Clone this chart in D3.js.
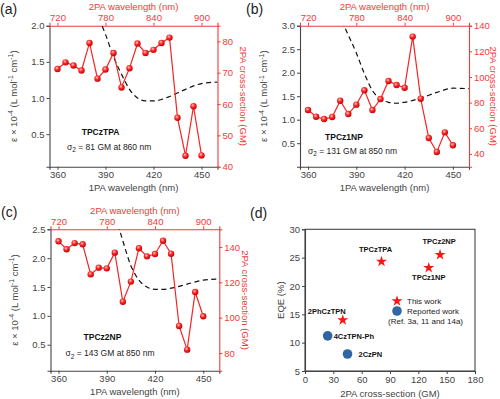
<!DOCTYPE html>
<html>
<head>
<meta charset="utf-8">
<script src="https://cdn.jsdelivr.net/npm/d3@7"></script>
<style>
body { margin: 0; background: #fff; }
svg { display: block; }
text { font-family: Arial, "Liberation Sans", sans-serif; }
</style>
</head>
<body>
<svg id="fig" width="500" height="399"></svg>
<script>
// 1PA wavelengths of the 2PA points (2PA wavelength = 2 x these)
const wl1PA = [360, 365, 370, 375, 380, 385, 390, 395, 400, 405, 410, 415, 420, 425, 430, 435, 440, 445, 450];

// 2PA cross-sections (GM)
const gmTPCzTPA = [71.2, 73.3, 72.3, 70.7, 79.5, 68.1, 71.0, 76.3, 65.3, 71.4, 79.3, 76.3, 77.3, 79.5, 81.2, 55.6, 43.5, 59.3, 43.6];
const gmTPCz1NP = [74.2, 69.0, 67.2, 68.8, 81.5, 71.1, 78.4, 89.6, 74.2, 82.8, 96.9, 93.7, 91.6, 131.5, 83.0, 52.4, 41.5, 56.8, 46.7];
const gmTPCz2NP = [143.2, 138.7, 142.2, 141.5, 124.5, 128.3, 127.9, 136.8, 109.0, 120.4, 139.3, 134.7, 136.0, 143.5, 136.2, 95.3, 81.9, 114.5, 100.8];

// 1PA absorption (dashed), eps x 10^-4
const absNmA = [386, 390, 395, 400, 405, 410, 415, 420, 425, 430, 440, 450, 460];
const absA = [2.10, 1.88, 1.57, 1.33, 1.12, 1.00, 0.96, 0.96, 0.98, 1.02, 1.12, 1.20, 1.22];
const absNmB = [381, 385, 390, 395, 400, 405, 410, 415, 420, 430, 440, 450, 460];
const absB = [3.10, 2.80, 2.42, 1.98, 1.62, 1.44, 1.37, 1.35, 1.37, 1.46, 1.58, 1.67, 1.66];
const absNmC = [397, 400, 405, 410, 415, 420, 425, 430, 440, 450, 460];
const absC = [2.58, 2.30, 1.87, 1.62, 1.50, 1.46, 1.46, 1.48, 1.55, 1.62, 1.64];

// tick labels
const ticks1PA = [360, 390, 420, 450];
const ticks2PA = [720, 780, 840, 900];
const epsTicksA = [0.5, 1.0, 1.5, 2.0];
const epsTicksB = [0.5, 1.0, 1.5, 2.0, 2.5, 3.0];
const epsTicksC = [0.5, 1.0, 1.5, 2.0, 2.5];
const gmTicksA = [40, 50, 60, 70, 80];
const gmTicksB = [40, 60, 80, 100, 120, 140];
const gmTicksC = [80, 100, 120, 140];

// panel d
const thisNames = ["TPCzTPA", "TPCz1NP", "TPCz2NP", "2PhCzTPN"];
const thisGM = [81, 131, 143, 40];
const thisEQE = [24.3, 23.2, 25.5, 14.0];
const refNames = ["4CzTPN-Ph", "2CzPN"];
const refGM = [24, 45];
const refEQE = [11.2, 8.0];
const dTicksX = [0, 30, 60, 90, 120, 150, 180];
const dTicksY = [5, 10, 15, 20, 25, 30];

const RED = "#f52424";
const AXRED = "#f23a3a";
const GREY = "#444";
const BLUE = "#2f66a3";

const svg = d3.select("#fig");

// shiny red ball for the 2PA points
const defs = svg.append("defs");
const grad = defs.append("radialGradient").attr("id", "ball")
  .attr("cx", "40%").attr("cy", "35%").attr("r", "65%");
grad.append("stop").attr("offset", "0%").attr("stop-color", "#ffd0d0");
grad.append("stop").attr("offset", "45%").attr("stop-color", "#ff2a2a");
grad.append("stop").attr("offset", "100%").attr("stop-color", "#c40000");

function styleAxis(g, col) {
  g.select(".domain").attr("stroke", col).attr("stroke-width", 1.1);
  g.selectAll(".tick line").attr("stroke", col);
  g.selectAll(".tick text").attr("fill", col).attr("font-size", 9.5)
    .attr("font-family", "Arial, 'Liberation Sans', sans-serif");
}

const panels = [
  { tag: "(a)", tx: 0, ty: 14, x0: 49.5, x1: 217.5, y0: 25.7, y1: 166.7,
    eps: [0.05, 2.0], epsTicks: epsTicksA, gm: [40, 85], gmTicks: gmTicksA,
    vals: gmTPCzTPA, absX: absNmA, absY: absA, rOff: 22.5,
    name: "TPCzTPA", nx: 51, ny: 109, sig: "81", sigWl: "860", sx: 17.5, sy: 124 },
  { tag: "(b)", tx: 246, ty: 14, x0: 300, x1: 469, y0: 25.7, y1: 166.7,
    eps: [0, 3.0], epsTicks: epsTicksB, gm: [30, 140], gmTicks: gmTicksB,
    vals: gmTPCz1NP, absX: absNmB, absY: absB, rOff: 20.5,
    name: "TPCz1NP", nx: 44, ny: 114, sig: "131", sigWl: "850", sx: 8, sy: 128 },
  { tag: "(c)", tx: 1, ty: 217, x0: 50.5, x1: 219.3, y0: 229.3, y1: 370.7,
    eps: [0.05, 2.5], epsTicks: epsTicksC, gm: [70, 150], gmTicks: gmTicksC,
    vals: gmTPCz2NP, absX: absNmC, absY: absC, rOff: 22.5,
    name: "TPCz2NP", nx: 52, ny: 111, sig: "143", sigWl: "850", sx: 15, sy: 127 }
];

panels.forEach(function (p, i) {
  const x = d3.scaleLinear().domain([355, 460]).range([p.x0, p.x1]);
  const xTop = d3.scaleLinear().domain([710, 920]).range([p.x0, p.x1]);
  const yL = d3.scaleLinear().domain(p.eps).range([p.y1, p.y0]);
  const yR = d3.scaleLinear().domain(p.gm).range([p.y1, p.y0]);

  svg.append("text").attr("x", p.tx).attr("y", p.ty).attr("font-size", 14)
    .attr("fill", "#222").text(p.tag);

  // clip for the dashed curve
  defs.append("clipPath").attr("id", "clip" + i).append("rect")
    .attr("x", p.x0).attr("y", p.y0).attr("width", p.x1 - p.x0).attr("height", p.y1 - p.y0);

  // axes
  const gB = svg.append("g").attr("transform", "translate(0," + p.y1 + ")")
    .call(d3.axisBottom(x).tickValues(ticks1PA).tickSize(3).tickPadding(2));
  styleAxis(gB, GREY);
  const gL = svg.append("g").attr("transform", "translate(" + p.x0 + ",0)")
    .call(d3.axisLeft(yL).tickValues(p.epsTicks).tickFormat(d3.format(".1f")).tickSize(3).tickPadding(2));
  styleAxis(gL, GREY);
  const gT = svg.append("g").attr("transform", "translate(0," + p.y0 + ")")
    .call(d3.axisTop(xTop).tickValues(ticks2PA).tickSize(3).tickPadding(1.5));
  styleAxis(gT, AXRED);
  const gR = svg.append("g").attr("transform", "translate(" + p.x1 + ",0)")
    .call(d3.axisRight(yR).tickValues(p.gmTicks).tickSize(3).tickPadding(2));
  styleAxis(gR, AXRED);

  // axis titles
  svg.append("text").attr("x", (p.x0 + p.x1) / 2).attr("y", p.y1 + 24)
    .attr("text-anchor", "middle").attr("font-size", 9.5).attr("fill", GREY)
    .text("1PA wavelength (nm)");
  svg.append("text").attr("x", (p.x0 + p.x1) / 2).attr("y", p.y0 - 15.5)
    .attr("text-anchor", "middle").attr("font-size", 9.5).attr("fill", AXRED)
    .text("2PA wavelength (nm)");
  const lt = svg.append("text")
    .attr("transform", "translate(" + (p.x0 - 33) + "," + ((p.y0 + p.y1) / 2) + ") rotate(-90)")
    .attr("text-anchor", "middle").attr("font-size", 9.5).attr("fill", GREY);
  lt.append("tspan").text("\u03b5 \u00d7 10");
  lt.append("tspan").attr("dy", -3.5).attr("font-size", 7).text("-4");
  lt.append("tspan").attr("dy", 3.5).text(" (L mol");
  lt.append("tspan").attr("dy", -3.5).attr("font-size", 7).text("-1");
  lt.append("tspan").attr("dy", 3.5).text(" cm");
  lt.append("tspan").attr("dy", -3.5).attr("font-size", 7).text("-1");
  lt.append("tspan").attr("dy", 3.5).text(")");
  svg.append("text")
    .attr("transform", "translate(" + (p.x1 + p.rOff) + "," + ((p.y0 + p.y1) / 2) + ") rotate(90)")
    .attr("text-anchor", "middle").attr("font-size", 9.5).attr("fill", AXRED)
    .text("2PA cross-section (GM)");

  // dashed 1PA absorption
  const absPts = p.absX.map(function (d, j) { return [d, p.absY[j]]; });
  svg.append("path").datum(absPts)
    .attr("clip-path", "url(#clip" + i + ")")
    .attr("fill", "none").attr("stroke", "#111").attr("stroke-width", 1.2)
    .attr("stroke-dasharray", "5,3.5")
    .attr("d", d3.line().x(function (d) { return x(d[0]); }).y(function (d) { return yL(d[1]); })
      .curve(d3.curveMonotoneX));

  // 2PA cross-section line + points
  const pts = wl1PA.map(function (d, j) { return [d, p.vals[j]]; });
  svg.append("path").datum(pts)
    .attr("fill", "none").attr("stroke", RED).attr("stroke-width", 1.2)
    .attr("d", d3.line().x(function (d) { return x(d[0]); }).y(function (d) { return yR(d[1]); }));
  svg.append("g").selectAll("circle").data(pts).enter().append("circle")
    .attr("cx", function (d) { return x(d[0]); })
    .attr("cy", function (d) { return yR(d[1]); })
    .attr("r", 3.2).attr("fill", "url(#ball)");

  // compound name and sigma note
  svg.append("text").attr("x", p.x0 + p.nx).attr("y", p.y0 + p.ny)
    .attr("text-anchor", "middle").attr("font-size", 8.5).attr("font-weight", "bold")
    .attr("fill", "#111").text(p.name);
  const st = svg.append("text").attr("x", p.x0 + p.sx).attr("y", p.y0 + p.sy)
    .attr("font-size", 8.5).attr("fill", "#222");
  st.append("tspan").text("\u03c3");
  st.append("tspan").attr("dy", 2.5).attr("font-size", 6.5).text("2");
  st.append("tspan").attr("dy", -2.5).text(" = " + p.sig + " GM at " + p.sigWl + " nm");
});

// ---- panel (d) ----
const dx0 = 305, dx1 = 475, dy0 = 229.3, dy1 = 371;
const xd = d3.scaleLinear().domain([0, 180]).range([dx0, dx1]);
const yd = d3.scaleLinear().domain([5, 30]).range([dy1, dy0]);

svg.append("text").attr("x", 250).attr("y", 218).attr("font-size", 14)
  .attr("fill", "#222").text("(d)");

svg.append("rect").attr("x", dx0).attr("y", dy0).attr("width", dx1 - dx0).attr("height", dy1 - dy0)
  .attr("fill", "none").attr("stroke", GREY).attr("stroke-width", 1.1);
const gdx = svg.append("g").attr("transform", "translate(0," + dy1 + ")")
  .call(d3.axisBottom(xd).tickValues(dTicksX).tickSize(3).tickPadding(2));
styleAxis(gdx, GREY);
const gdy = svg.append("g").attr("transform", "translate(" + dx0 + ",0)")
  .call(d3.axisLeft(yd).tickValues(dTicksY).tickSize(3).tickPadding(2));
styleAxis(gdy, GREY);

svg.append("text").attr("x", (dx0 + dx1) / 2).attr("y", dy1 + 26)
  .attr("text-anchor", "middle").attr("font-size", 9.5).attr("fill", GREY)
  .text("2PA cross-section (GM)");
svg.append("text")
  .attr("transform", "translate(" + (dx0 - 21) + "," + ((dy0 + dy1) / 2) + ") rotate(-90)")
  .attr("text-anchor", "middle").attr("font-size", 9.5).attr("fill", GREY)
  .text("EQE (%)");

const star = d3.symbol().type(d3.symbolStar).size(38);
svg.append("g").selectAll("path").data(thisGM).enter().append("path")
  .attr("d", star)
  .attr("transform", function (d, j) { return "translate(" + xd(d) + "," + yd(thisEQE[j]) + ")"; })
  .attr("fill", "#ff1414");
svg.append("g").selectAll("circle").data(refGM).enter().append("circle")
  .attr("cx", function (d) { return xd(d); })
  .attr("cy", function (d, j) { return yd(refEQE[j]); })
  .attr("r", 4.8).attr("fill", BLUE);

// marker labels (offset from marker, anchor)
const thisLab = [[-6, -10, "middle"], [0, 12, "middle"], [-1, -11, "middle"], [-16, -6, "middle"]];
const refLab = [[6, 3, "start"], [11, 3, "start"]];
svg.append("g").selectAll("text").data(thisNames).enter().append("text")
  .attr("x", function (d, j) { return xd(thisGM[j]) + thisLab[j][0]; })
  .attr("y", function (d, j) { return yd(thisEQE[j]) + thisLab[j][1]; })
  .attr("text-anchor", function (d, j) { return thisLab[j][2]; })
  .attr("font-size", 7.5).attr("font-weight", "bold").attr("fill", "#111")
  .text(function (d) { return d; });
svg.append("g").selectAll("text").data(refNames).enter().append("text")
  .attr("x", function (d, j) { return xd(refGM[j]) + refLab[j][0]; })
  .attr("y", function (d, j) { return yd(refEQE[j]) + refLab[j][1]; })
  .attr("text-anchor", function (d, j) { return refLab[j][2]; })
  .attr("font-size", 7.5).attr("font-weight", "bold").attr("fill", "#111")
  .text(function (d) { return d; });

// legend
svg.append("path").attr("d", star).attr("transform", "translate(397,301)").attr("fill", "#ff1414");
svg.append("circle").attr("cx", 397).attr("cy", 311).attr("r", 4.8).attr("fill", BLUE);
svg.append("text").attr("x", 407).attr("y", 304).attr("font-size", 8).attr("fill", "#222").text("This work");
svg.append("text").attr("x", 407).attr("y", 314).attr("font-size", 8).attr("fill", "#222").text("Reported work");
svg.append("text").attr("x", 388).attr("y", 324).attr("font-size", 8).attr("fill", "#222").text("(Ref. 3a, 11 and 14a)");
</script>
</body>
</html>
